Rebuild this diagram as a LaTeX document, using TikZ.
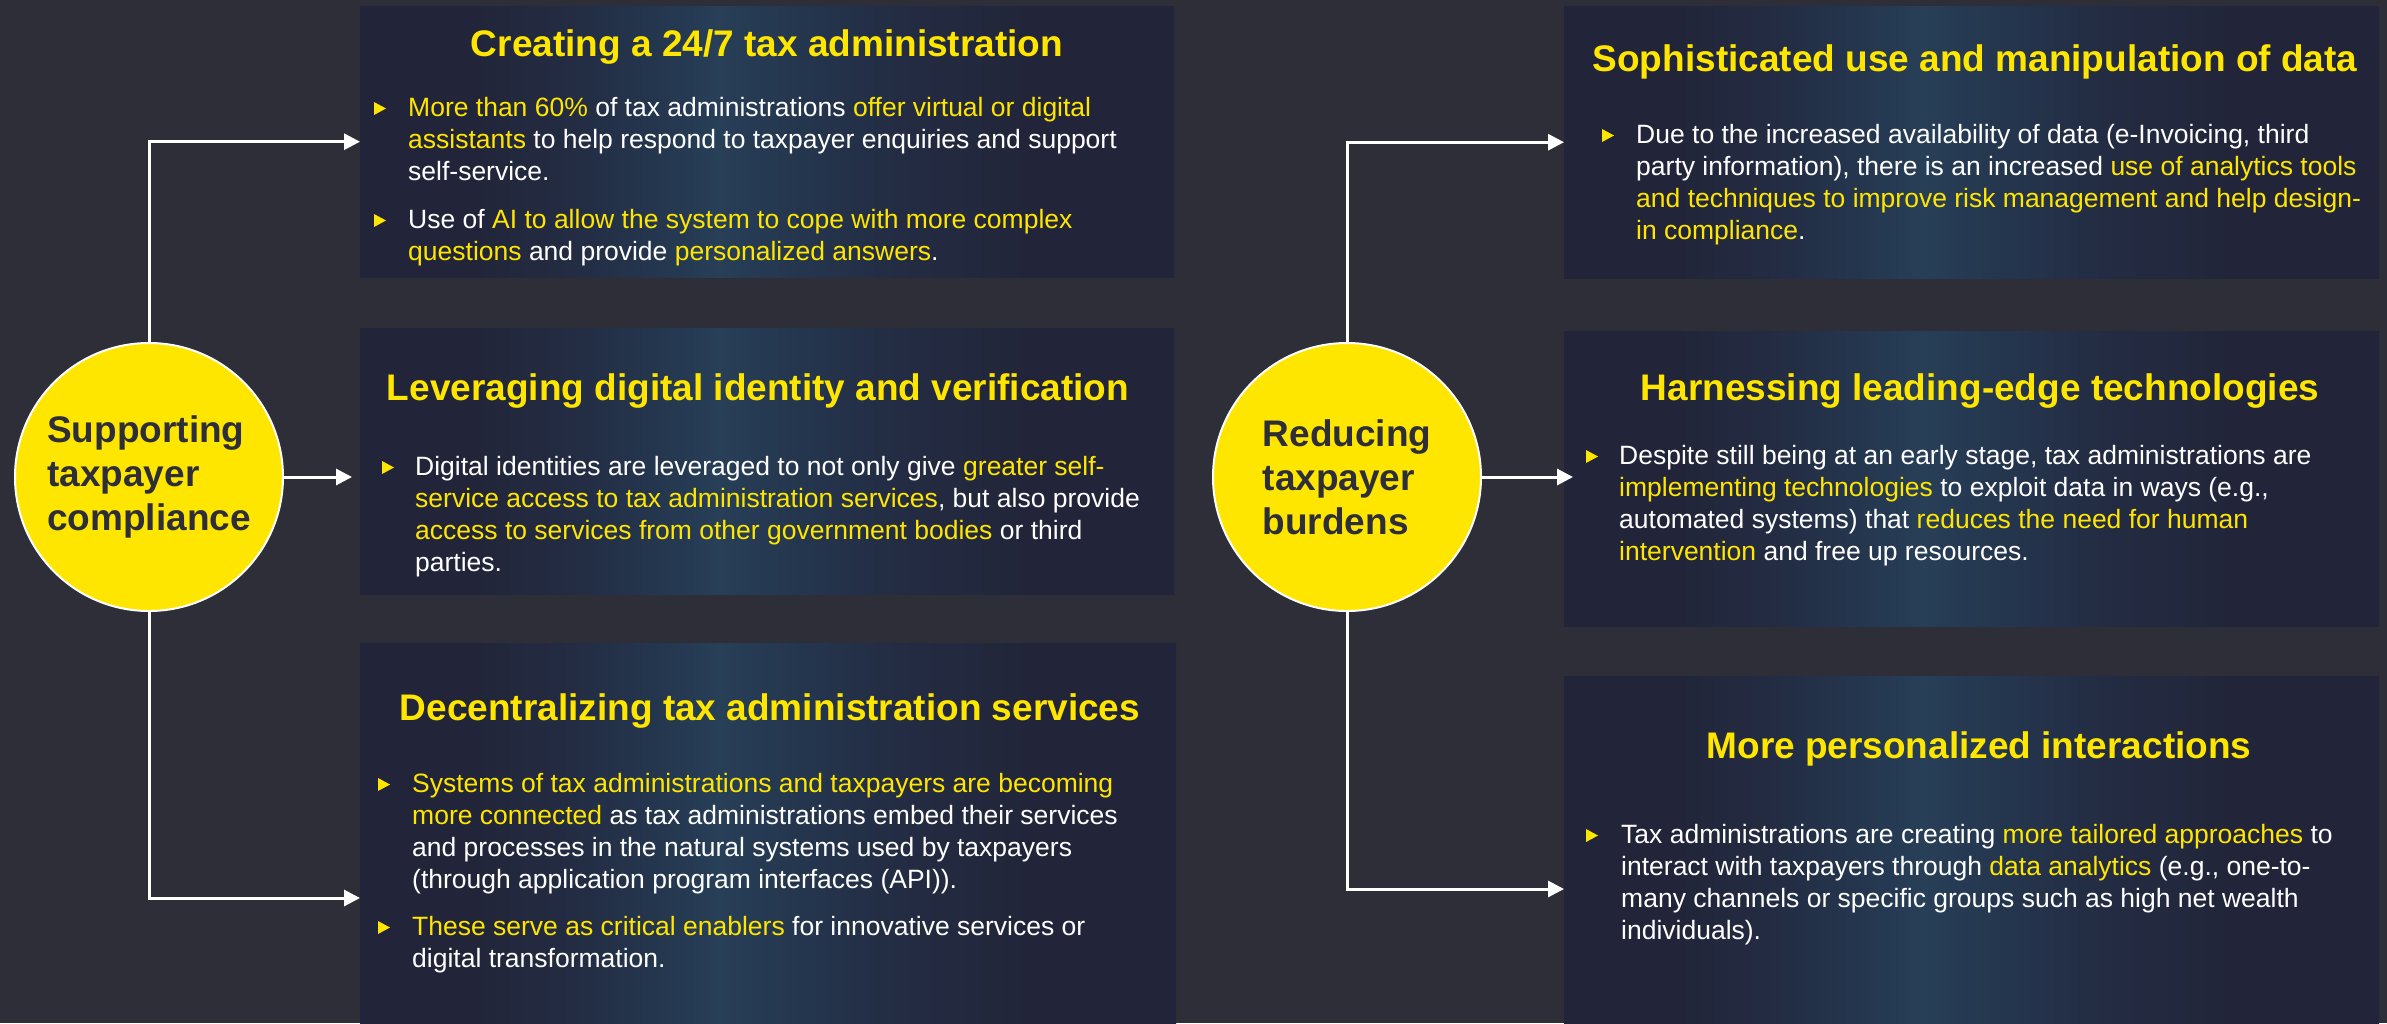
\documentclass[tikz,border=0pt]{standalone}
\usepackage{fontspec}
\setmainfont{Liberation Sans}
\usetikzlibrary{arrows.meta}

% palette
\definecolor{bgcol}{HTML}{2E2E38}
\definecolor{eyyellow}{HTML}{FFE600}
\definecolor{boxdark}{HTML}{222539}
\definecolor{boxmid}{HTML}{232C43}
\definecolor{streakA}{HTML}{24364E}
\definecolor{streakB}{HTML}{273F57}

% soft vertical band of light across each panel
\pgfdeclarehorizontalshading{streak}{100bp}{%
  color(0bp)=(boxdark); color(25bp)=(boxdark); color(32bp)=(boxdark);
  color(38bp)=(boxmid); color(43bp)=(streakA); color(47bp)=(streakB);
  color(52bp)=(streakA); color(58bp)=(boxmid); color(66bp)=(boxdark);
  color(75bp)=(boxdark); color(100bp)=(boxdark)}

\newcommand\hl[1]{\textcolor{eyyellow}{#1}}
\newcommand\lines[1]{\parbox[t]{900pt}{\raggedright #1}}

\tikzset{
  panel/.style={rectangle, anchor=north west, inner sep=0pt, shade, shading=streak},
  heading/.style={anchor=base, inner sep=0pt, text=eyyellow,
    font=\fontsize{37}{44}\selectfont\bfseries},
  bodytext/.style={anchor=base west, inner sep=0pt, text=white,
    font=\fontsize{26.5}{32}\selectfont},
  hub/.style={circle, minimum size=268pt, inner sep=0pt, fill=eyyellow,
    draw=white, line width=2pt, text=bgcol, align=left,
    font=\fontsize{37}{44}\selectfont\bfseries},
  link/.style={draw=white, line width=3pt, -{Triangle[length=16pt,width=16pt]}},
  bulletmark/.pic={\fill[eyyellow] (0,0) -- (0,-13) -- (12,-6.5) -- cycle;}
}

\begin{document}
\begin{tikzpicture}[x=1pt,y=-1pt]
\useasboundingbox (0,0) rectangle (2387,1023);
\fill[bgcol] (0,0) rectangle (2387,1023);

% ---------- panels ----------
\node[panel, minimum width=814pt, minimum height=271pt] (b1) at (360,6) {};
\node[panel, minimum width=814pt, minimum height=266pt] (b2) at (360,328) {};
\node[panel, minimum width=816pt, minimum height=380pt] (b3) at (360,643) {};
\node[panel, minimum width=815pt, minimum height=272pt] (b4) at (1564,6) {};
\node[panel, minimum width=815pt, minimum height=295pt] (b5) at (1564,331) {};
\node[panel, minimum width=815pt, minimum height=347pt] (b6) at (1564,676) {};

% ---------- hubs ----------
\node[hub] (c1) at (149,477) {Supporting\\taxpayer\\compliance};
\node[hub] (c2) at (1347,477) {Reducing\\taxpayer\\burdens};

% ---------- connectors ----------
\coordinate (e3) at (360,898);
\coordinate (e6) at (1564,889);
\draw[link] (c1.north) |- (b1.west);
\draw[link, shorten >=8pt] (c1.east) -- (c1.east -| b2.west);
\draw[link] (c1.south) |- (e3);
\draw[link] (c2.north) |- (b4.west);
\draw[link, shorten >=-9pt] (c2.east) -- (c2.east -| b5.west);
\draw[link] (c2.south) |- (e6);

% ---------- headings ----------
\node[heading] (h1) at (767,56) {Creating a 24/7 tax administration};
\node[heading] (h2) at (758,400) {Leveraging digital identity and verification};
\node[heading] (h3) at (770,720) {Decentralizing tax administration services};
\node[heading] (h4) at (1975,71) {Sophisticated use and manipulation of data};
\node[heading] (h5) at (1980,400) {Harnessing leading-edge technologies};
\node[heading] (h6) at (1979,758) {More personalized interactions};

% ---------- bullet marks ----------
\pic at (374,115) {bulletmark};
\pic at (374,227) {bulletmark};
\pic at (382,474) {bulletmark};
\pic at (378,791) {bulletmark};
\pic at (378,934) {bulletmark};
\pic at (1602,142) {bulletmark};
\pic at (1586,463) {bulletmark};
\pic at (1586,842) {bulletmark};

% ---------- bullet texts ----------
\node[bodytext] (t1a) at (408,116) {\lines{%
  \hl{More than 60\%} of tax administrations \hl{offer virtual or digital}\\
  \hl{assistants} to help respond to taxpayer enquiries and support\\
  self-service.}};
\node[bodytext] (t1b) at (408,228) {\lines{%
  Use of \hl{AI to allow the system to cope with more complex}\\
  \hl{questions} and provide \hl{personalized answers}.}};
\node[bodytext] (t2) at (415,475) {\lines{%
  Digital identities are leveraged to not only give \hl{greater self-}\\
  \hl{service access to tax administration services}, but also provide\\
  \hl{access to services from other government bodies} or third\\
  parties.}};
\node[bodytext] (t3a) at (412,792) {\lines{%
  \hl{Systems of tax administrations and taxpayers are becoming}\\
  \hl{more connected} as tax administrations embed their services\\
  and processes in the natural systems used by taxpayers\\
  (through application program interfaces (API)).}};
\node[bodytext] (t3b) at (412,935) {\lines{%
  \hl{These serve as critical enablers} for innovative services or\\
  digital transformation.}};
\node[bodytext] (t4) at (1636,143) {\lines{%
  Due to the increased availability of data (e-Invoicing, third\\
  party information), there is an increased \hl{use of analytics tools}\\
  \hl{and techniques to improve risk management and help design-}\\
  \hl{in compliance}.}};
\node[bodytext] (t5) at (1619,464) {\lines{%
  Despite still being at an early stage, tax administrations are\\
  \hl{implementing technologies} to exploit data in ways (e.g.,\\
  automated systems) that \hl{reduces the need for human}\\
  \hl{intervention} and free up resources.}};
\node[bodytext] (t6) at (1621,843) {\lines{%
  Tax administrations are creating \hl{more tailored approaches} to\\
  interact with taxpayers through \hl{data analytics} (e.g., one-to-\\
  many channels or specific groups such as high net wealth\\
  individuals).}};
\end{tikzpicture}
\end{document}
